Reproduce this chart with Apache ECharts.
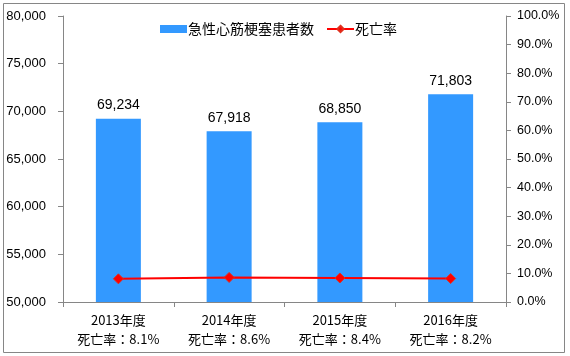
<!DOCTYPE html>
<html><head><meta charset="utf-8">
<script src="https://cdn.jsdelivr.net/npm/echarts@6/dist/echarts.min.js"></script>
<style>html,body{margin:0;padding:0;background:#fff}#c{width:570px;height:356px}</style>
</head><body><div id="c"></div>
<script>
const years = ['2013年度', '2014年度', '2015年度', '2016年度'];
const patients = [69234, 67918, 68850, 71803];
const deathRate = [8.1, 8.6, 8.4, 8.2];
const leftTicks = [50000, 80000, 5000];
const rightTicks = [0, 100, 10];

const chart = echarts.init(document.getElementById('c'), null, {renderer: 'canvas'});
const axisGray = '#868686';
const latin = 'Arial, "Liberation Sans", sans-serif';
const cjk = '"Noto Sans CJK JP", sans-serif';
chart.setOption({
  backgroundColor: '#fff',
  animation: false,
  graphic: [{
    type: 'rect', shape: {x: 3.5, y: 3.5, width: 561, height: 349},
    style: {fill: 'none', stroke: axisGray, lineWidth: 1}, silent: true
  }],
  legend: {
    left: 155, top: 17, itemWidth: 27, itemHeight: 8, itemGap: 12,
    textStyle: {fontFamily: cjk, fontSize: 14, color: '#000', padding: [0, 0, 0, -4]},
    data: [{name: '急性心筋梗塞患者数', icon: 'rect'}, {name: '死亡率'}]
  },
  grid: {left: 63, right: 64, top: 16, bottom: 54, containLabel: false},
  xAxis: {
    type: 'category', data: years,
    axisLine: {lineStyle: {color: axisGray}},
    axisTick: {show: true, length: 5, lineStyle: {color: axisGray}, alignWithLabel: false},
    axisLabel: {
      margin: 9, fontFamily: cjk, fontSize: 13, color: '#000', lineHeight: 19,
      formatter: (v, i) => v + '\n死亡率：' + deathRate[i].toFixed(1) + '%'
    }
  },
  yAxis: [{
    type: 'value', min: leftTicks[0], max: leftTicks[1], interval: leftTicks[2],
    axisLine: {show: true, lineStyle: {color: axisGray}},
    axisTick: {show: true, length: 5, lineStyle: {color: axisGray}},
    splitLine: {show: false},
    axisLabel: {margin: 17, fontFamily: latin, fontSize: 13, color: '#000',
      formatter: v => v.toLocaleString('en-US')}
  }, {
    type: 'value', min: rightTicks[0], max: rightTicks[1], interval: rightTicks[2],
    position: 'right',
    axisLine: {show: true, lineStyle: {color: axisGray}},
    axisTick: {show: true, length: 5, lineStyle: {color: axisGray}},
    splitLine: {show: false},
    axisLabel: {margin: 11, fontFamily: latin, fontSize: 12.5, color: '#000',
      formatter: v => v.toFixed(1) + '%'}
  }],
  series: [{
    name: '急性心筋梗塞患者数', type: 'bar', data: patients, yAxisIndex: 0,
    barWidth: 45, itemStyle: {color: '#3399FF'},
    label: {show: true, position: 'top', distance: 6, fontFamily: latin, fontSize: 14, color: '#000',
      formatter: p => p.value.toLocaleString('en-US')}
  }, {
    name: '死亡率', type: 'line', data: deathRate, yAxisIndex: 1,
    symbol: 'diamond', symbolSize: 10, showAllSymbol: true,
    lineStyle: {color: '#FF0000', width: 2},
    itemStyle: {color: '#FF0000', borderColor: '#E0301E', borderWidth: 1}
  }]
});
</script></body></html>
